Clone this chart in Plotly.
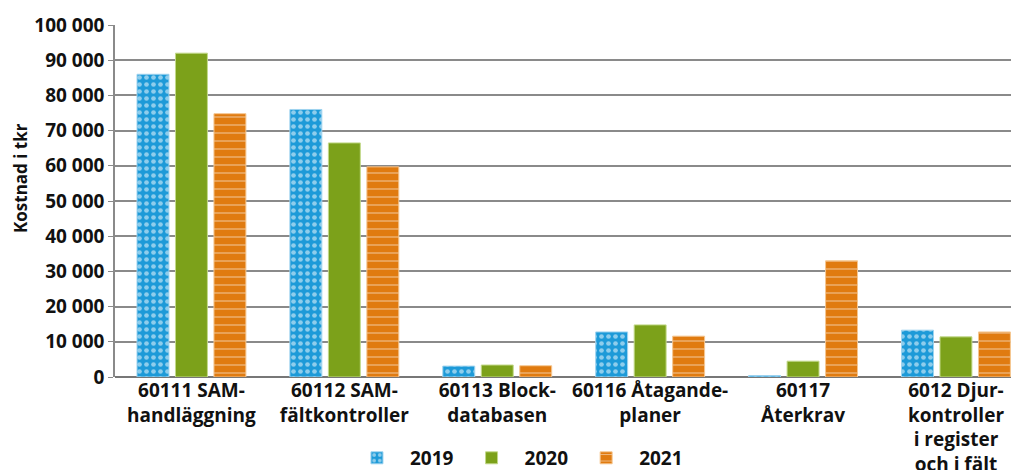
import plotly.graph_objects as go

categories = ["60111 SAM-<br>handläggning", "60112 SAM-<br>fältkontroller", "60113 Block-<br>databasen",
              "60116 Åtagande-<br>planer", "60117<br>Återkrav", "6012 Djur-<br>kontroller<br>i register<br>och i fält"]
v2019 = [86000, 76000, 3100, 12800, 400, 13300]
v2020 = [92000, 66500, 3400, 14800, 4500, 11400]
v2021 = [74800, 59700, 3200, 11600, 33000, 12800]
y_title = "Kostnad i tkr"

font_family = "Open Sans"

fig = go.Figure()
fig.add_trace(go.Bar(name="2019", x=categories, y=v2019,
                     marker=dict(color="#1d9ad8", line=dict(color="#9fd3ef", width=1),
                                 pattern=dict(shape=".", fgcolor="white", bgcolor="#1d9ad8", size=7, solidity=0.35))))
fig.add_trace(go.Bar(name="2020", x=categories, y=v2020,
                     marker=dict(color="#7ca11a", line=dict(color="#c3d98a", width=1))))
fig.add_trace(go.Bar(name="2021", x=categories, y=v2021,
                     marker=dict(color="#e07b10", line=dict(color="#f5c690", width=1),
                                 pattern=dict(shape="-", fgcolor="white", bgcolor="#e07b10", size=8, solidity=0.15))))

fig.update_layout(
    width=1011, height=470,
    margin=dict(l=115, r=0, t=25, b=93, autoexpand=False),
    paper_bgcolor="white", plot_bgcolor="white",
    barmode="group", bargap=0.245, bargroupgap=0.17,
    separators=", ",
    font=dict(family=font_family, size=19, color="#111111", weight=700),
    legend=dict(orientation="h", x=0.4475, xanchor="center", y=-0.23, yanchor="middle",
                font=dict(size=19, weight=700), itemwidth=56, traceorder="normal"),
    showlegend=True,
)
fig.add_annotation(text=y_title, textangle=-90, xref="paper", yref="paper",
                   x=(20 - 115) / 896, y=(377 - 178) / 352, xanchor="center", yanchor="middle",
                   showarrow=False, font=dict(size=17, weight=700, color="#111111"))
fig.update_yaxes(range=[0, 100000], dtick=10000, tickformat=",d",
                 showgrid=True, gridcolor="#8a8a8a", gridwidth=1.5,
                 showline=True, linecolor="#8a8a8a", linewidth=1.5,
                 zeroline=True, zerolinecolor="#777777", zerolinewidth=2,
                 ticks="outside", ticklen=5, tickcolor="#8a8a8a",
                 tickfont=dict(size=19, weight=700), automargin=False)
fig.update_xaxes(range=[-0.5, 5.36], showline=False, tickfont=dict(size=19, weight=700),
                 ticks="", automargin=False)

fig.write_html("out.html", config={"displayModeBar": False},
               post_script="document.body.style.margin='0';document.body.style.overflow='hidden';")
